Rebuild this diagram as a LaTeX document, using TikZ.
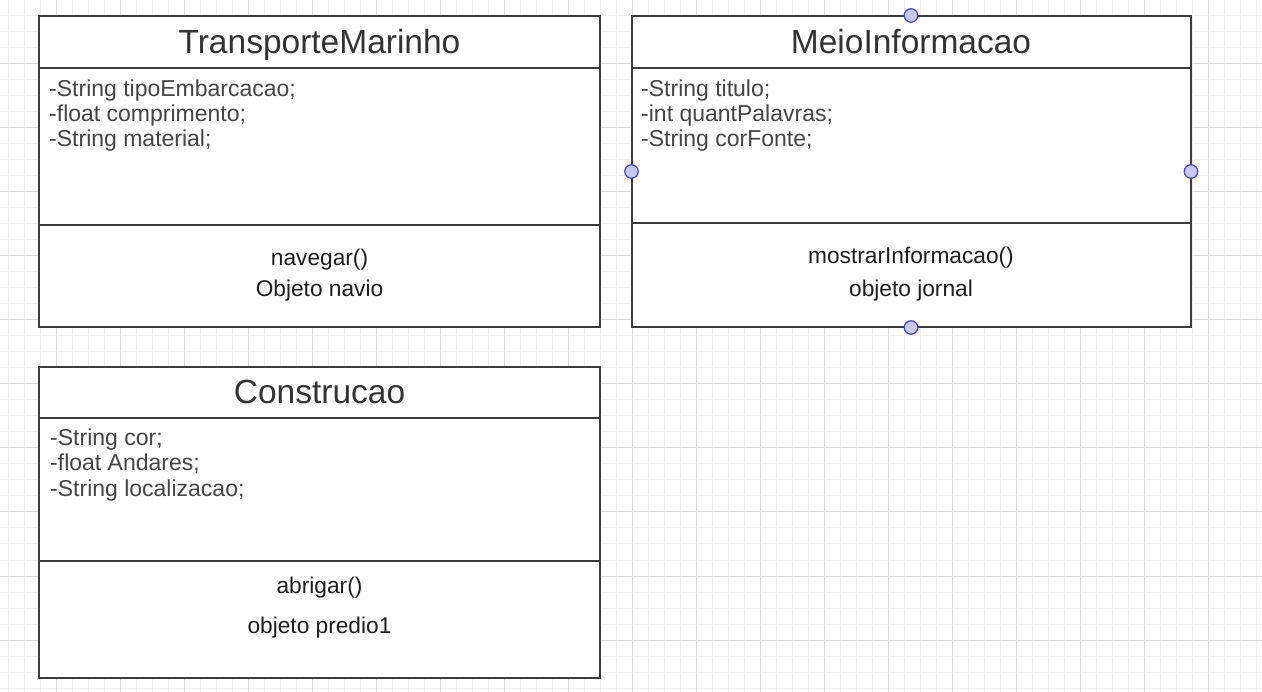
\documentclass[tikz,border=0pt]{standalone}
\usepackage{fontspec}
\setmainfont{Liberation Sans}
\definecolor{gridminor}{HTML}{EEEEEE}
\definecolor{gridmajor}{HTML}{DCDCDC}
\definecolor{boxline}{HTML}{3C3C3C}
\definecolor{titlecol}{HTML}{333333}
\definecolor{attrcol}{HTML}{454545}
\definecolor{methcol}{HTML}{1E1E1E}
\definecolor{handlefill}{HTML}{C8C8FF}
\definecolor{handledraw}{HTML}{4747D1}
\begin{document}
\begin{tikzpicture}[x=1pt,y=-1pt,
  box/.style={draw=boxline, line width=2pt, fill=white, anchor=north west, inner sep=0, outer sep=0},
  sep/.style={draw=boxline, line width=2pt},
  minorline/.style={draw=gridminor, line width=1pt},
  majorline/.style={draw=gridmajor, line width=1pt},
  titletext/.style={anchor=base, text=titlecol, font=\fontsize{33.5}{40}\selectfont, inner sep=0},
  attrtext/.style={anchor=base west, text=attrcol, font=\fontsize{23}{25}\selectfont, inner sep=0},
  methtext/.style={anchor=base, text=methcol, font=\fontsize{22.7}{27}\selectfont, inner sep=0},
  handle/.style={circle, draw=handledraw, fill=handlefill, line width=1.2pt, minimum size=13.5pt, inner sep=0}]
\useasboundingbox (0,0) rectangle (1262,692);
\fill[white] (0,0) rectangle (1262,692);
% grid
\foreach \x in {8.5,24.5,...,1262} \draw[minorline] (\x,0) -- (\x,692);
\foreach \y in {0,16,...,692} \draw[minorline] (0,\y) -- (1262,\y);
\foreach \x in {56.5,120.5,...,1262} \draw[majorline] (\x,0) -- (\x,692);
\foreach \y in {0,64,...,692} \draw[majorline] (0,\y) -- (1262,\y);

% Box 1: TransporteMarinho
\node[box, minimum width=560.5pt, minimum height=311pt] (b1) at (39,16) {};
\draw[sep] (b1.west |- 0,68) -- (b1.east |- 0,68);
\draw[sep] (b1.west |- 0,225) -- (b1.east |- 0,225);
\node[titletext] (t1) at (319.5,54) {TransporteMarinho};
\node[attrtext] (a11) at (49,96.7) {-String tipoEmbarcacao;};
\node[attrtext] (a12) at (49,121.7) {-float comprimento;};
\node[attrtext] (a13) at (49,146.7) {-String material;};
\node[methtext] (m11) at (319.5,265.7) {navegar()};
\node[methtext] (m12) at (319.5,296.5) {Objeto navio};

% Box 2: MeioInformacao
\node[box, minimum width=559.5pt, minimum height=311.5pt] (b2) at (631.5,16) {};
\draw[sep] (b2.west |- 0,68) -- (b2.east |- 0,68);
\draw[sep] (b2.west |- 0,223.5) -- (b2.east |- 0,223.5);
\node[titletext] (t2) at (911,53.5) {MeioInformacao};
\node[attrtext] (a21) at (641,96.7) {-String titulo;};
\node[attrtext] (a22) at (641,121.7) {-int quantPalavras;};
\node[attrtext] (a23) at (641,146.7) {-String corFonte;};
\node[methtext] (m21) at (911,263.3) {mostrarInformacao()};
\node[methtext] (m22) at (911,296.7) {objeto jornal};
\node[handle] (h1) at (911,15.5) {};
\node[handle] (h2) at (631.5,171.5) {};
\node[handle] (h3) at (1191,171.5) {};
\node[handle] (h4) at (911,327.5) {};

% Box 3: Construcao
\node[box, minimum width=561pt, minimum height=311pt] (b3) at (39,367) {};
\draw[sep] (b3.west |- 0,418.5) -- (b3.east |- 0,418.5);
\draw[sep] (b3.west |- 0,561) -- (b3.east |- 0,561);
\node[titletext] (t3) at (319.5,404) {Construcao};
\node[attrtext] (a31) at (50,446) {-String cor;};
\node[attrtext] (a32) at (50,471) {-float Andares;};
\node[attrtext] (a33) at (50,496.5) {-String localizacao;};
\node[methtext] (m31) at (319.5,594) {abrigar()};
\node[methtext] (m32) at (319.5,633) {objeto predio1};
\end{tikzpicture}
\end{document}
